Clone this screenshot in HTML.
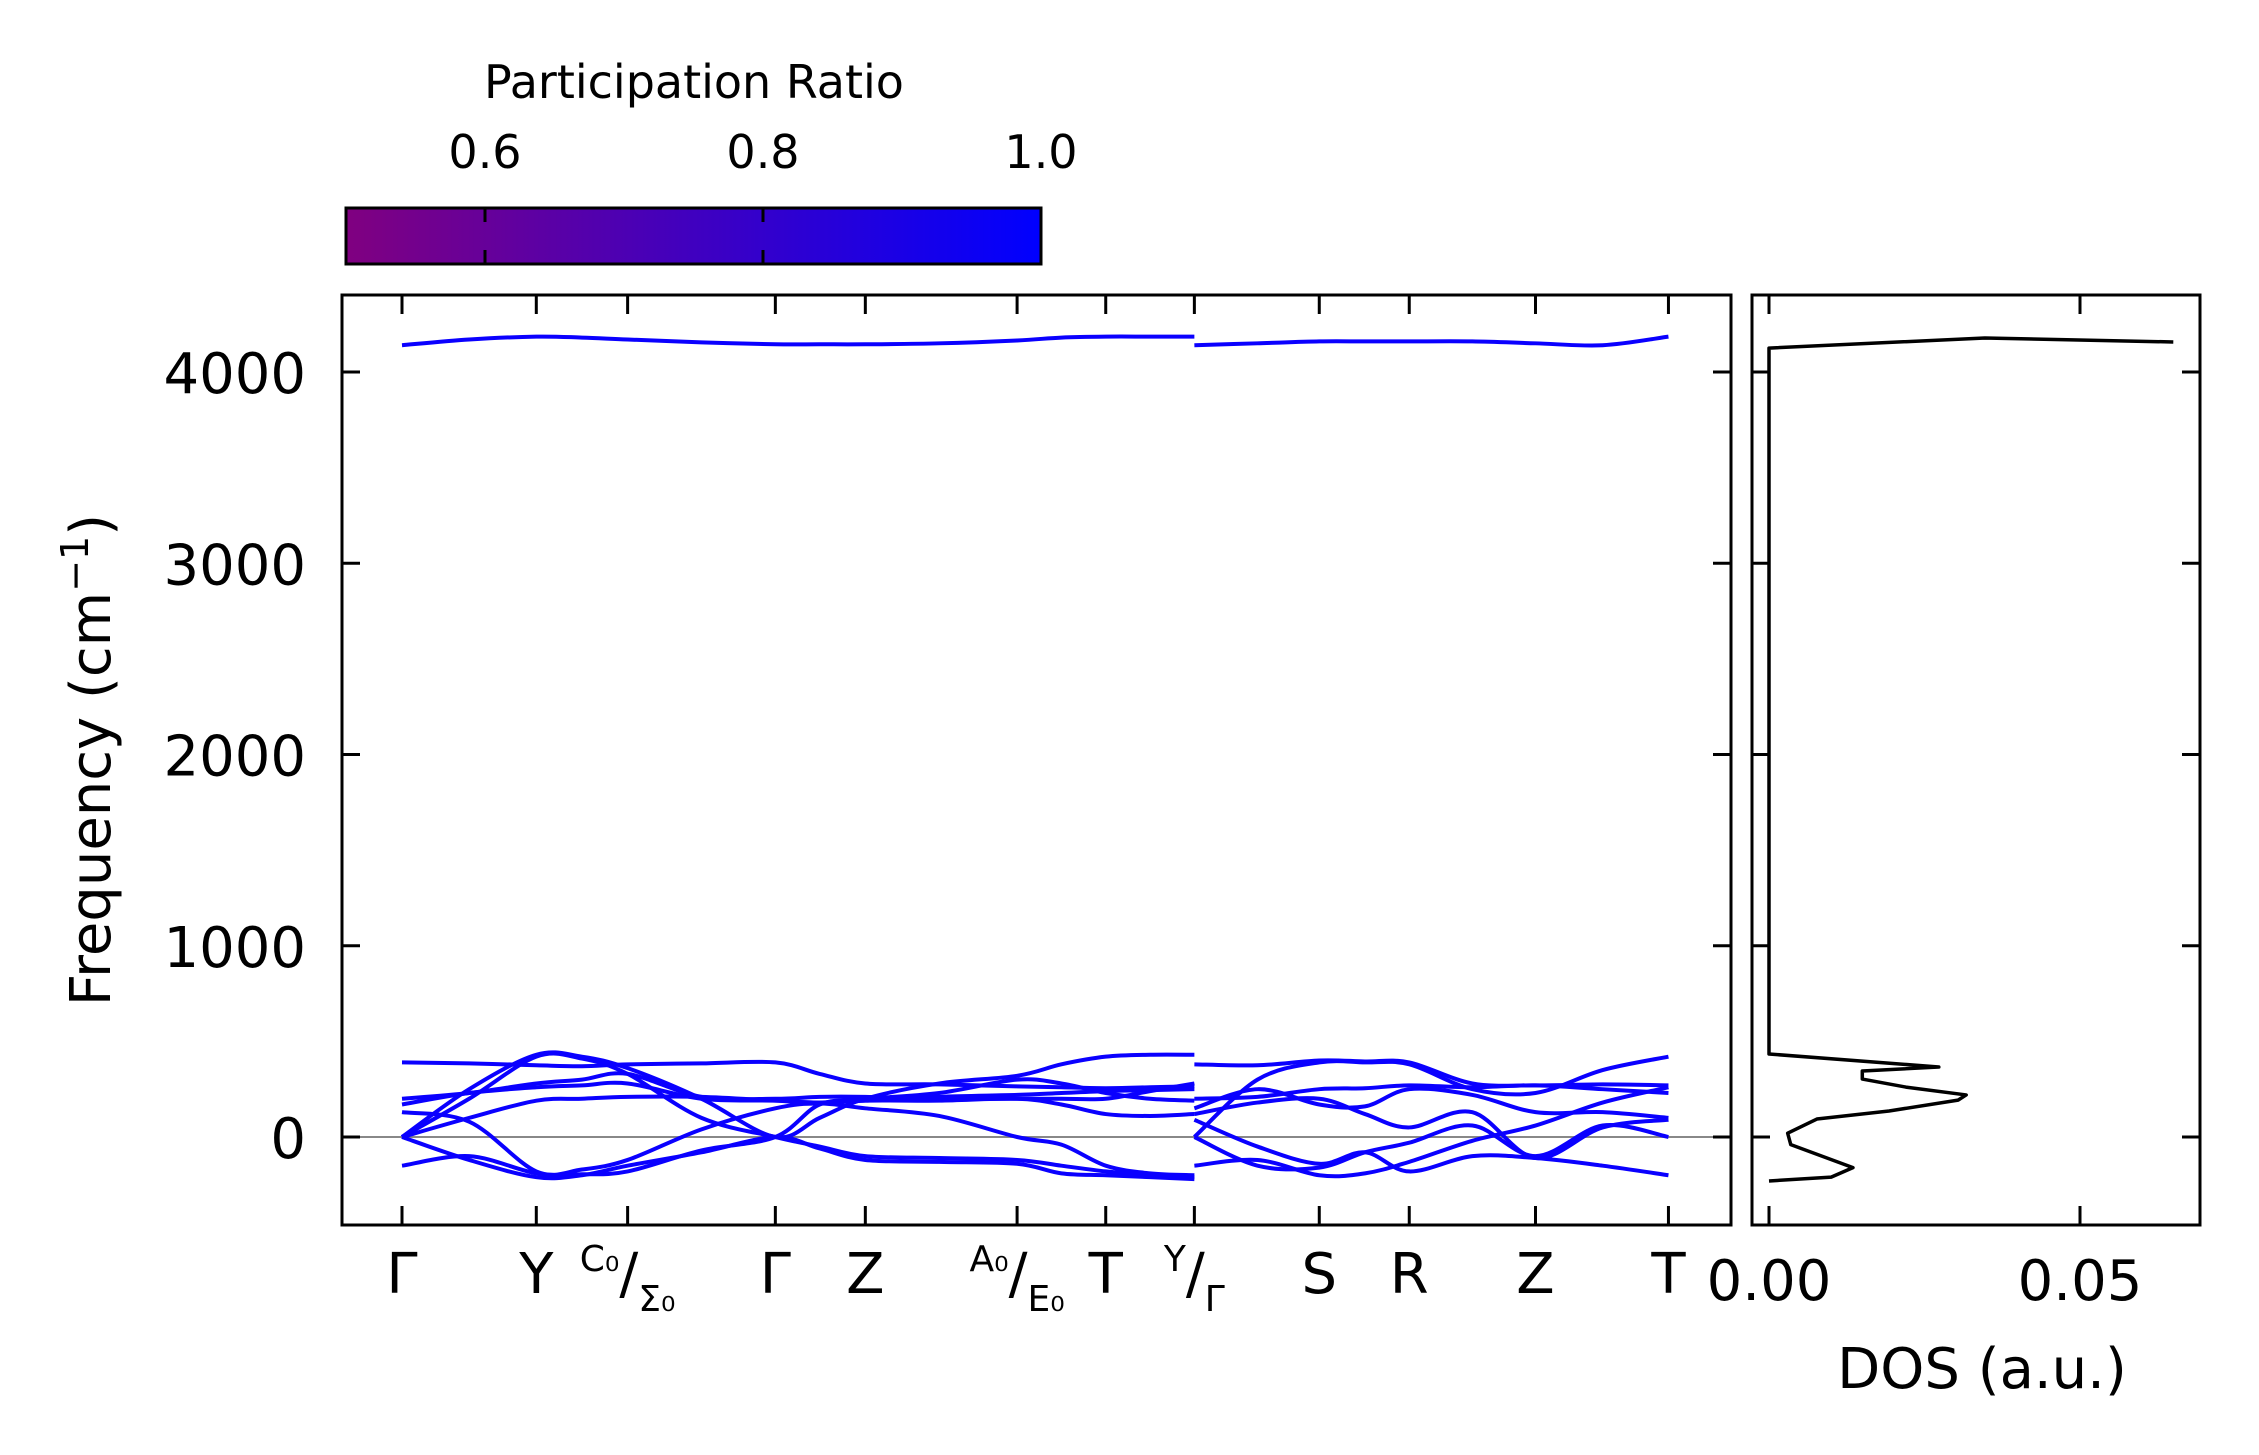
<!DOCTYPE html>
<html><head><meta charset="utf-8">
<style>
html,body{margin:0;padding:0;background:#fff;}
svg{display:block;font-family:"DejaVu Sans","Liberation Sans",sans-serif;}
</style></head>
<body>
<svg id="chart" width="2259" height="1455" viewBox="0 0 2259 1455" xmlns="http://www.w3.org/2000/svg">
<defs>
<linearGradient id="cbgrad" x1="0" x2="1" y1="0" y2="0">
<stop offset="0" stop-color="#800080"/><stop offset="1" stop-color="#0000ff"/>
</linearGradient>
<clipPath id="mainclip"><rect x="342" y="295" width="1389" height="930"/></clipPath>
<clipPath id="dosclip"><rect x="1752" y="295" width="448" height="930"/></clipPath>
</defs>
<g id="colorbar">
<text x="694" y="98" font-size="46" text-anchor="middle">Participation Ratio</text>
<rect x="346" y="208" width="695" height="56" fill="url(#cbgrad)" stroke="#000" stroke-width="3"/>
</g>
<g id="main"></g>
<g id="dos"></g>
<text transform="translate(110,760) rotate(-90)" font-size="56" text-anchor="middle">Frequency (cm<tspan font-size="38" dy="-22">−1</tspan><tspan dy="22">)</tspan></text>
<text x="1982" y="1388" font-size="56" text-anchor="middle">DOS (a.u.)</text>
</svg>
<script>
// ---- data ----
const yTicks = [0, 1000, 2000, 3000, 4000];
const cbTicks = [0.6, 0.8, 1.0];
const kTickPos = [0, 1, 1.68, 2.78, 3.45, 4.58, 5.24, 5.9, 6.83, 7.5, 8.44, 9.43];
const kTickNames = ["Γ","Y","C0/Σ0","Γ","Z","A0/E0","T","Y/Γ","S","R","Z","T"];
const kLeft = [0, 0.5, 1, 1.34, 1.68, 2.23, 2.78, 3.11, 3.45, 4.0, 4.58, 4.91, 5.24, 5.57, 5.9];
const bandsLeft = [
 [4140,4170,4185,4180,4170,4155,4145,4145,4145,4150,4165,4180,4185,4185,4185],
 [390,385,375,370,380,385,390,330,280,275,265,260,255,260,265],
 [0,250,430,420,360,200,0,100,200,280,320,380,420,430,430],
 [0,200,420,410,330,100,0,-50,-100,-110,-120,-150,-180,-200,-210],
 [200,230,280,300,330,210,200,210,210,200,200,200,200,240,280],
 [170,230,260,270,280,200,190,180,200,230,300,280,230,200,190],
 [130,80,-180,-170,-120,40,150,175,150,110,0,-40,-150,-190,-200],
 [0,-120,-210,-200,-150,-80,0,-60,-120,-130,-140,-190,-200,-210,-220],
 [-150,-100,-190,-195,-180,-70,0,170,190,190,200,170,120,110,120],
 [0,100,190,200,210,210,190,180,190,210,220,230,240,245,250]
];
const kRight = [5.9, 6.37, 6.83, 7.17, 7.5, 7.97, 8.44, 8.94, 9.43];
const bandsRight = [
 [4140,4150,4160,4160,4160,4160,4150,4140,4185],
 [380,375,400,395,390,280,270,275,270],
 [0,300,390,390,380,250,230,350,420],
 [200,210,250,255,270,260,270,250,230],
 [150,250,170,160,250,220,130,130,100],
 [90,-50,-140,-80,-180,-100,-110,-150,-200],
 [0,-150,-160,-80,-30,60,-100,60,0],
 [120,180,200,120,50,130,-110,50,90],
 [-150,-120,-200,-190,-130,-20,60,180,260]
];
const dosFreq = [-230,-210,-160,-40,20,94,136,193,220,261,303,345,366,434,4125,4178,4157];
const dosVal  = [0,0.010,0.0135,0.0035,0.003,0.0077,0.0193,0.0304,0.0317,0.022,0.015,0.015,0.0273,0,0,0.0347,0.065];
const dosTicks = [0.00, 0.05];

// ---- axes ----
const NS="http://www.w3.org/2000/svg";
const MX0=342,MX1=1731,MY0=295,MY1=1225;
const DX0=1752,DX1=2200;
const yScale=f=>1137-f*0.19125;
const kScale=k=>402+k*134.3;
const dScale=d=>1769+d*6220;
const cbScale=v=>346+(v-0.5)*1390;
function mk(tag,attrs,parent){const e=document.createElementNS(NS,tag);for(const a in attrs)e.setAttribute(a,attrs[a]);parent.appendChild(e);return e;}
const main=document.getElementById('main');
const dos=document.getElementById('dos');
const cb=document.getElementById('colorbar');

cbTicks.forEach(v=>{
 const x=cbScale(v);
 if(v<1){const t=mk('line',{x1:x,x2:x,y1:208,y2:264,stroke:'#000','stroke-width':3,'stroke-dasharray':'14 28 14'},cb);
 
 }
 const l=mk('text',{x:x,y:168,'font-size':46,'text-anchor':'middle'},cb);
 l.textContent=v.toFixed(1);
 
 
});

const z=mk('line',{x1:MX0,x2:MX1,y1:yScale(0),y2:yScale(0),stroke:'#888','stroke-width':2},main);



function smoothPath(xs,ys){
 let d=`M${xs[0]},${ys[0]}`;
 for(let i=0;i<xs.length-1;i++){
  const x0=xs[Math.max(i-1,0)],y0=ys[Math.max(i-1,0)];
  const x1=xs[i],y1=ys[i],x2=xs[i+1],y2=ys[i+1];
  const x3=xs[Math.min(i+2,xs.length-1)],y3=ys[Math.min(i+2,xs.length-1)];
  const c1x=x1+(x2-x0)/6,c1y=y1+(y2-y0)/6,c2x=x2-(x3-x1)/6,c2y=y2-(y3-y1)/6;
  d+=` C${c1x},${c1y} ${c2x},${c2y} ${x2},${y2}`;
 }
 return d;
}
const bg=mk('g',{'clip-path':'url(#mainclip)'},main);
function drawBands(ks,bands,tag){
 bands.forEach((b,i)=>{
  const p=mk('path',{d:smoothPath(ks.map(kScale),b.map(yScale)),fill:'none',stroke:'#0a00ff','stroke-width':4},bg);
  
  
 });
}
drawBands(kLeft,bandsLeft,'left');
drawBands(kRight,bandsRight,'right');

const frame=mk('rect',{x:MX0,y:MY0,width:MX1-MX0,height:MY1-MY0,fill:'none',stroke:'#000','stroke-width':3},main);



yTicks.forEach(f=>{
 const y=yScale(f);
 [[MX0,MX0+18],[MX1-18,MX1],[DX0,DX0+18],[DX1-18,DX1]].forEach(([a,b],j)=>{
  const t=mk('line',{x1:a,x2:b,y1:y,y2:y,stroke:'#000','stroke-width':3},j<2?main:dos);
  
  
 });
 const l=mk('text',{x:306,y:y+21,'font-size':56,'text-anchor':'end'},main);
 l.textContent=String(f);
 
 
});

kTickPos.forEach((k,i)=>{
 const x=kScale(k);
 [[MY0,MY0+19],[MY1-19,MY1]].forEach(([a,b])=>{
  const t=mk('line',{x1:x,x2:x,y1:a,y2:b,stroke:'#000','stroke-width':3},main);
  
  
 });
 const name=kTickNames[i];
 const g=mk('text',{x:x,y:1293,'font-size':56,'text-anchor':'middle'},main);
 
 
 if(name.includes('/')){
  const [a,b]=name.split('/');
  const fmt=s=>s.replace('0','₀');
  g.innerHTML=`<tspan font-size="36" dy="-22">${fmt(a)}</tspan><tspan font-size="56" dy="22">/</tspan><tspan font-size="36" dy="18">${fmt(b)}</tspan>`;
 } else g.textContent=name;
});

const dframe=mk('rect',{x:DX0,y:MY0,width:DX1-DX0,height:MY1-MY0,fill:'none',stroke:'#000','stroke-width':3},dos);


dosTicks.forEach(v=>{
 const x=dScale(v);
 [[MY0,MY0+19],[MY1-19,MY1]].forEach(([a,b])=>{
  const t=mk('line',{x1:x,x2:x,y1:a,y2:b,stroke:'#000','stroke-width':3},dos);
  
  
 });
 const l=mk('text',{x:x,y:1300,'font-size':56,'text-anchor':'middle'},dos);
 l.textContent=v.toFixed(2);
 
 
});
const dpts=dosFreq.map((f,i)=>`${dScale(dosVal[i])},${yScale(f)}`).join(' ');
const dl=mk('polyline',{points:dpts,fill:'none',stroke:'#000','stroke-width':3.5,'stroke-linejoin':'round'},mk('g',{'clip-path':'url(#dosclip)'},dos));


</script>
</body></html>
